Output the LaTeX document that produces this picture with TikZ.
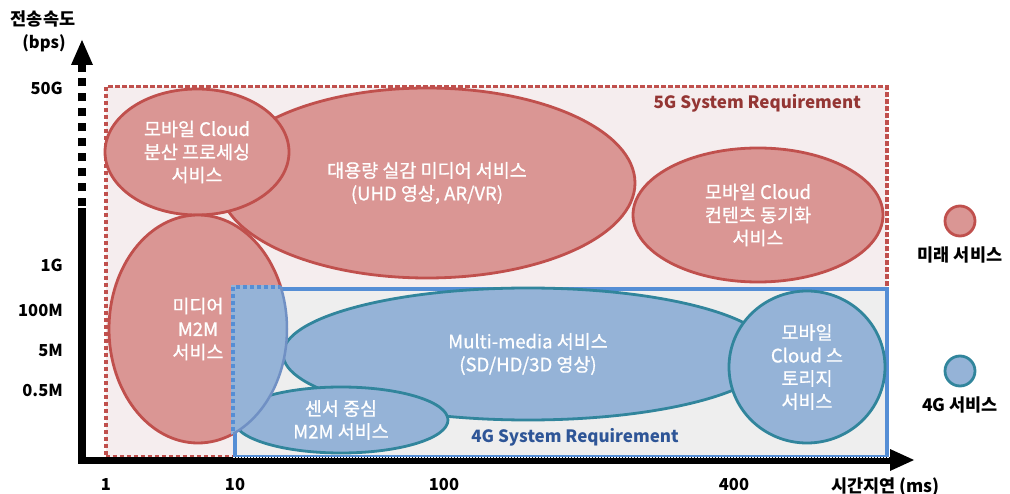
\documentclass[tikz,border=0pt]{standalone}
\usepackage{fontspec}
\setmainfont{Noto Sans CJK KR}
\newfontfamily\svcfont[FakeBold=0.9]{Noto Sans CJK KR}
\usetikzlibrary{shapes.geometric}
\definecolor{pinkfill}{HTML}{DA9694}
\definecolor{pinkline}{HTML}{C0504D}
\definecolor{bluefill}{HTML}{95B3D7}
\definecolor{tealline}{HTML}{31859C}
\definecolor{fivegbg}{HTML}{F5EDEE}
\definecolor{fourgbg}{HTML}{EEEEEE}
\definecolor{rectblue}{HTML}{558ED5}
\definecolor{darkred}{HTML}{943634}
\definecolor{darkblue}{HTML}{2E5597}
\definecolor{m2mblue}{HTML}{7090C4}
\tikzset{
  svc/.style={ellipse, inner sep=0pt, line width=2.8pt, text=white, align=center,
    font=\svcfont\fontsize{18.5}{23}\selectfont},
  svcfive/.style={svc, draw=pinkline, fill=pinkfill},
  svcfour/.style={svc, draw=tealline, fill=bluefill},
  axlabel/.style={font=\bfseries\fontsize{16.5}{19}\selectfont, text=black, inner sep=0pt},
  krlabel/.style={font=\bfseries\fontsize{17.5}{20}\selectfont, text=black, inner sep=0pt},
  reqbox/.style={rectangle, inner sep=0pt, anchor=north west},
  reqlabel/.style={font=\bfseries\fontsize{17}{20}\selectfont, inner sep=0pt},
}
\begin{document}
\begin{tikzpicture}[x=1pt,y=-1pt]
\useasboundingbox (0,0) rectangle (1010,494);

% requirement boxes
\node[reqbox, fill=fivegbg, draw=pinkline, line width=3.5pt, dash pattern=on 4.5pt off 2.5pt,
  minimum width=781pt, minimum height=370pt] (r5) at (104,85) {};
\node[reqlabel, text=darkred, anchor=east] (l5) at (861,103) {5G System Requirement};

% 5G services
\node[svcfive, minimum width=416pt, minimum height=190pt] (big) at (427,183) {대용량 실감 미디어 서비스\\(UHD 영상, AR/VR)};
\node[svcfive, minimum width=184pt, minimum height=126pt] (cloudp) at (197,152) {모바일 Cloud\\분산 프로세싱\\서비스};
\node[svcfive, minimum width=250pt, minimum height=134pt] (sync) at (758,215) {모바일 Cloud\\컨텐츠 동기화\\서비스};
\node[svcfive, minimum width=178pt, minimum height=228pt] (m2m) at (198,329) {미디어\\M2M\\서비스};

% 4G box
\node[reqbox, fill=fourgbg, draw=rectblue, line width=4pt,
  minimum width=652pt, minimum height=168pt] (r4) at (233,287) {};

% 4G services
\node[svcfour, minimum width=490pt, minimum height=132pt] (mm) at (528,354) {Multi-media 서비스\\(SD/HD/3D 영상)};
\node[svcfour, minimum width=214pt, minimum height=66pt] (sensor) at (341,420) {센서 중심\\M2M 서비스};
\node[svcfour, minimum width=156pt, minimum height=152pt] (stor) at (807,367) {모바일\\Cloud 스\\토리지\\서비스};

% part of the media M2M ellipse inside the 4G box
\begin{scope}
  \clip (r4.north west) rectangle (r4.south east);
  \fill[bluefill] (m2m.center) ellipse [x radius=89pt, y radius=114pt];
\end{scope}
\begin{scope}
  \clip (m2m.center) ellipse [x radius=89pt, y radius=114pt];
  \draw[bluefill, line width=4.5pt] (r4.south west) -- (r4.north west) -- (r4.north east);
  \draw[rectblue, line width=4pt, dash pattern=on 4pt off 3pt] (r4.south west) -- (r4.north west) -- (r4.north east);
\end{scope}
\begin{scope}
  \clip (r4.north west) rectangle (r4.south east);
  \draw[m2mblue, line width=2.5pt] (m2m.center) ellipse [x radius=89pt, y radius=114pt];
\end{scope}

\node[reqlabel, text=darkblue] (l4) at (575,437) {4G System Requirement};

% axes
\coordinate (o) at (82,460);
\coordinate (ysolid) at (82,208);
\coordinate (ydash) at (82,72);
\coordinate (ybase) at (82,65);
\coordinate (ytip) at (82,40);
\coordinate (xstart) at (78,460);
\coordinate (xbase) at (890,460);
\coordinate (xtip) at (914,460);
\draw[line width=8pt] (82,463.5) -- (ysolid);
\draw[line width=8pt, dash pattern=on 8pt off 7pt] (ysolid) ++(0,-1.5) -- (ydash);
\draw[line width=8pt] (ydash) -- (ybase);
\fill (71,65) -- (ytip) -- (93,65) -- cycle;
\draw[line width=7pt] (xstart) -- (xbase);
\draw[white, line width=1pt, dash pattern=on 1.5pt off 1.5pt] (233,457) -- (890,457);
\fill (890,449) -- (xtip) -- (890,471) -- cycle;

% axis labels
\node[krlabel] (yt1) at (43,19) {전송속도};
\node[axlabel] (yt2) at (44,43) {(bps)};
\node[axlabel, anchor=east] (y50g) at (63,88) {50G};
\node[axlabel, anchor=east] (y1g) at (63,265) {1G};
\node[axlabel, anchor=east] (y100m) at (63,310) {100M};
\node[axlabel, anchor=east] (y5m) at (63,350) {5M};
\node[axlabel, anchor=east] (y05m) at (63,390) {0.5M};
\node[axlabel] (x1) at (106,485) {1};
\node[axlabel] (x10) at (235,485) {10};
\node[axlabel] (x100) at (444,485) {100};
\node[axlabel] (x400) at (734,485) {400};
\node[krlabel, anchor=west] (xt) at (831,487) {시간지연 (ms)};

% legend
\node[circle, fill=pinkfill, draw=pinkline, line width=2.8pt, minimum size=30pt, inner sep=0pt] (lg5) at (960,221) {};
\node[krlabel] (lg5t) at (960,255) {미래 서비스};
\node[circle, fill=bluefill, draw=tealline, line width=2.8pt, minimum size=30pt, inner sep=0pt] (lg4) at (960,371) {};
\node[krlabel] (lg4t) at (960,405) {4G 서비스};
\end{tikzpicture}
\end{document}
